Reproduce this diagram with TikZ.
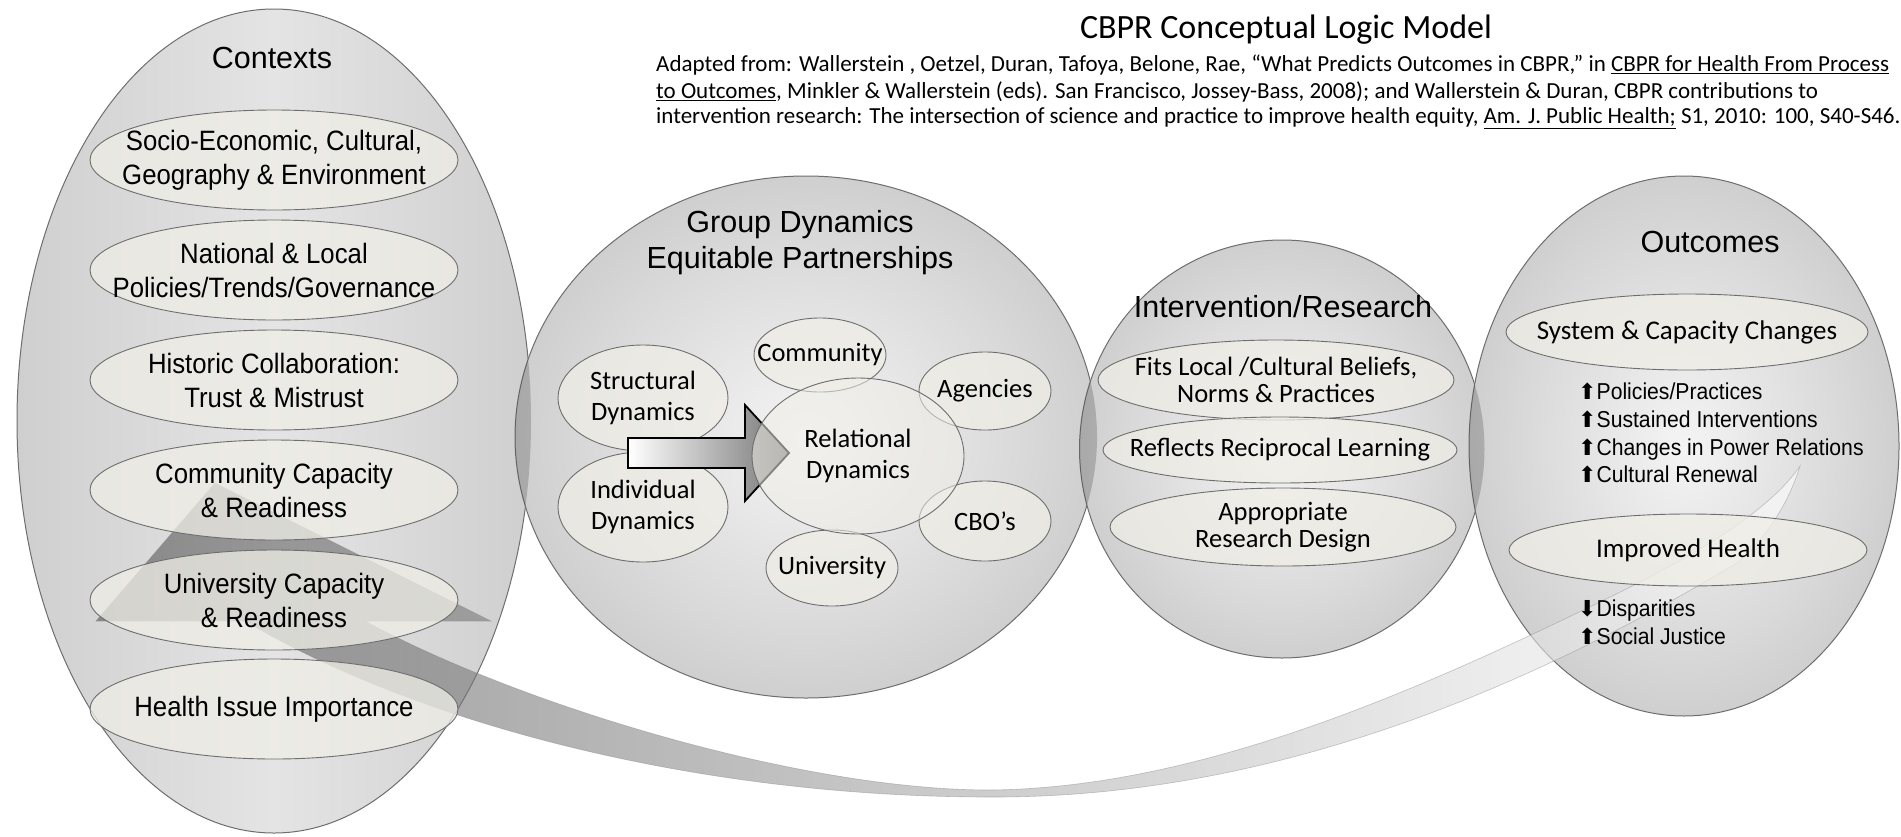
\documentclass[tikz,border=0pt]{standalone}
\usepackage{fontspec}
\setmainfont{Liberation Sans}
\newfontfamily\narrowfont[FakeStretch=0.92]{Liberation Sans}
\newfontfamily\calfont{Carlito}
\newfontfamily\symfont{DejaVu Sans}
\usetikzlibrary{shapes.geometric}

\definecolor{itemfill}{HTML}{EFEEE7}
\definecolor{rimgray}{HTML}{6E6E6E}
\definecolor{ctxedge}{HTML}{CFCFCF}
\definecolor{ctxmid}{HTML}{E4E4E4}
\definecolor{bubin}{HTML}{F4F4F4}
\definecolor{bubmid}{HTML}{DADADA}
\definecolor{bubout}{HTML}{A8A8A8}
\pgfdeclareradialshading{bubble}{\pgfpoint{0bp}{0bp}}{color(0bp)=(bubin); color(18bp)=(bubmid); color(50bp)=(bubout)}

\newcommand{\titlefont}{\fontsize{30.5}{36}\selectfont}
\newcommand{\ctxfont}{\narrowfont\fontsize{28}{34}\selectfont}
\newcommand{\grpfont}{\calfont\fontsize{26.5}{31}\selectfont}
\newcommand{\intfont}{\calfont\fontsize{26.5}{27}\selectfont}
\newcommand{\outfont}{\calfont\fontsize{27}{30}\selectfont}
\newcommand{\listfont}{\narrowfont\fontsize{23}{27.7}\selectfont}
\newcommand{\citefont}{\calfont\fontsize{23}{26}\selectfont}
\newcommand{\arrup}{{\symfont\fontsize{22}{22}\selectfont ⬆}}
\newcommand{\arrdown}{{\symfont\fontsize{22}{22}\selectfont ⬇}}

\tikzset{
  bigshape/.style={ellipse, draw=rimgray, line width=1pt, inner sep=0pt},
  bubbleshape/.style={bigshape, shade, shading=bubble},
  itembox/.style={ellipse, draw=rimgray, line width=0.9pt, fill=itemfill, fill opacity=0.75, inner sep=0pt},
  ctxlabel/.style={font=\ctxfont, align=center, inner sep=0pt},
  grplabel/.style={font=\grpfont, align=center, inner sep=0pt},
  intlabel/.style={font=\intfont, align=center, inner sep=0pt},
  outlabel/.style={font=\outfont, align=center, inner sep=0pt},
  headtext/.style={font=\titlefont, align=center, inner sep=0pt},
  feedband/.style={left color=black!68, right color=white, fill opacity=0.6, draw=black!45, draw opacity=0.5, line width=0.6pt},
  dynarrow/.style={left color=white, right color=black!55, draw=black, line width=1.8pt, line join=miter}
}

\begin{document}
\begin{tikzpicture}[x=1pt,y=-1pt]
  \path[use as bounding box, fill=white] (0,0) rectangle (1901,836);

  \node[bigshape, minimum width=514pt, minimum height=824pt, left color=ctxedge, right color=ctxedge, middle color=ctxmid] (contexts) at (274,421) {};
  \node[bubbleshape, minimum width=582pt, minimum height=522pt] (groupdyn) at (806,437) {};
  \node[bubbleshape, minimum width=405pt, minimum height=418pt] (intervention) at (1282,449) {};
  \node[bubbleshape, minimum width=430pt, minimum height=540pt] (outcomes) at (1684,446) {};

  % overlaps
  \begin{scope}
    \clip (contexts.center) ellipse [x radius=257pt, y radius=412pt];
    \fill[black, opacity=0.18] (groupdyn.center) ellipse [x radius=291pt, y radius=261pt];
  \end{scope}
  \begin{scope}
    \clip (groupdyn.center) ellipse [x radius=291pt, y radius=261pt];
    \fill[black, opacity=0.18] (intervention.center) ellipse [x radius=202.5pt, y radius=209pt];
  \end{scope}
  \begin{scope}
    \clip (intervention.center) ellipse [x radius=202.5pt, y radius=209pt];
    \fill[black, opacity=0.18] (outcomes.center) ellipse [x radius=215pt, y radius=270pt];
  \end{scope}

  \path[feedband] (96,621) -- (215,483) -- (491,621) -- (365,621)
    .. controls (520,705) and (800,790) .. (990,790)
    .. controls (1200,788) and (1420,690) .. (1610,597)
    .. controls (1700,553) and (1770,510) .. (1800,466)
    .. controls (1785,515) and (1755,548) .. (1737,563)
    .. controls (1500,705) and (1250,798) .. (990,797)
    .. controls (700,797) and (420,725) .. (245,621) -- cycle;

  \node[headtext] (ctxtitle) at (272,58) {Contexts};
  \node[itembox, minimum width=368pt, minimum height=100pt, label={[ctxlabel]center:{Socio-Economic, Cultural,\\Geography \& Environment}}] (socio) at (274,160) {};
  \node[itembox, minimum width=368pt, minimum height=100pt, label={[ctxlabel]center:{National \& Local\\Policies/Trends/Governance}}] (national) at (274,270) {};
  \node[itembox, minimum width=368pt, minimum height=100pt, label={[ctxlabel]center:{Historic Collaboration:\\Trust \& Mistrust}}] (historic) at (274,380) {};
  \node[itembox, minimum width=368pt, minimum height=100pt, label={[ctxlabel]center:{Community Capacity\\\& Readiness}}] (commcap) at (274,490) {};
  \node[itembox, minimum width=368pt, minimum height=100pt, label={[ctxlabel]center:{University Capacity\\\& Readiness}}] (univcap) at (274,600) {};
  \node[itembox, minimum width=368pt, minimum height=100pt, label={[ctxlabel]center:{Health Issue Importance}}] (healthissue) at (274,709) {};

  \node[headtext] (grptitle) at (800,243) {Group Dynamics\\Equitable Partnerships};
  \node[itembox, minimum width=170pt, minimum height=106pt, label={[grplabel]center:{Structural\\Dynamics}}] (structural) at (643,398) {};
  \node[itembox, minimum width=170pt, minimum height=110pt, label={[grplabel]center:{Individual\\Dynamics}}] (individual) at (643,507) {};
  \node[itembox, minimum width=132pt, minimum height=74pt, label={[grplabel]center:{Community}}] (community) at (820,355) {};
  \node[itembox, minimum width=132pt, minimum height=78pt, label={[grplabel]center:{Agencies}}] (agencies) at (985,391) {};
  \node[itembox, minimum width=132pt, minimum height=80pt, label={[grplabel]center:{CBO’s}}] (cbos) at (985,521) {};
  \node[itembox, minimum width=132pt, minimum height=76pt, label={[grplabel]center:{University}}] (university) at (832,568) {};
  \path[dynarrow] (628,438) -- (745,438) -- (745,405) -- (789,453) -- (745,501) -- (745,468) -- (628,468) -- cycle;
  \node[itembox, fill opacity=0.55, minimum width=212pt, minimum height=156pt, label={[grplabel]center:{Relational\\Dynamics}}] (relational) at (858,456) {};

  \node[headtext] (inttitle) at (1283,307) {Intervention/Research};
  \node[itembox, minimum width=356pt, minimum height=80pt, label={[intlabel]center:{Fits Local /Cultural Beliefs,\\Norms \& Practices}}] (fits) at (1276,380) {};
  \node[itembox, minimum width=354pt, minimum height=66pt, label={[intlabel]center:{Reflects Reciprocal Learning}}] (reflects) at (1280,450) {};
  \node[itembox, minimum width=346pt, minimum height=78pt, label={[intlabel]center:{Appropriate\\Research Design}}] (appropriate) at (1283,527) {};

  \node[headtext] (outtitle) at (1710,242) {Outcomes};
  \node[itembox, minimum width=362pt, minimum height=76pt, label={[outlabel]center:{System \& Capacity Changes}}] (system) at (1687,332) {};
  \node[anchor=west, align=left, inner sep=0pt, font=\listfont] (syslist) at (1578,433) {\arrup Policies/Practices\\\arrup Sustained Interventions\\\arrup Changes in Power Relations\\\arrup Cultural Renewal};
  \node[itembox, minimum width=358pt, minimum height=72pt, label={[outlabel]center:{Improved Health}}] (improved) at (1688,550) {};
  \node[anchor=west, align=left, inner sep=0pt, font=\listfont] (healthlist) at (1578,622) {\arrdown Disparities\\\arrup Social Justice};

  \node[inner sep=0pt, font=\calfont\fontsize{34}{40}\selectfont] (title) at (1286,30) {CBPR Conceptual Logic Model};
  \node[anchor=west, inner sep=0pt, font=\citefont] (cite1) at (656,65) {Adapted from: Wallerstein , Oetzel, Duran, Tafoya, Belone, Rae, “What Predicts Outcomes in CBPR,” in \underline{CBPR for Health From Process}};
  \node[anchor=west, inner sep=0pt, font=\citefont] (cite2) at (656,92) {\underline{to Outcomes}, Minkler \& Wallerstein (eds). San Francisco, Jossey-Bass, 2008); and Wallerstein \& Duran, CBPR contributions to};
  \node[anchor=west, inner sep=0pt, font=\citefont] (cite3) at (656,118) {intervention research: The intersection of science and practice to improve health equity, \underline{Am. J. Public Health;} S1, 2010: 100, S40-S46.};
\end{tikzpicture}
\end{document}
